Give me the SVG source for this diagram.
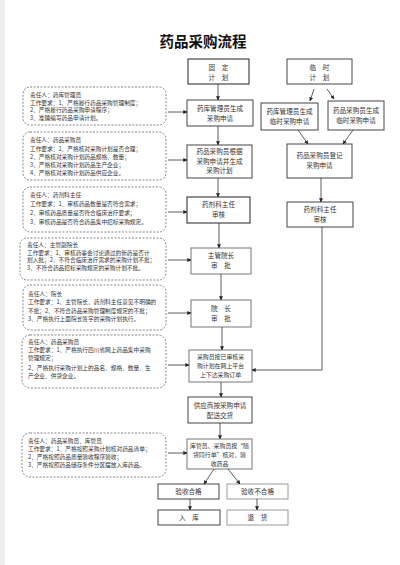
<svg xmlns="http://www.w3.org/2000/svg" width="400" height="565" viewBox="0 0 400 565">
<defs>
<marker id="ah" viewBox="0 0 6 6" refX="5.5" refY="3" markerWidth="5" markerHeight="5" orient="auto">
<path d="M0,0 L6,3 L0,6 z" fill="#222"/>
</marker>
<style>
.title{font-family:"Noto Sans CJK SC",sans-serif;font-size:14.5px;font-weight:bold;fill:#111;text-anchor:middle}
.box{fill:#fff;stroke:#444;stroke-width:1}
.lt{stroke:#999}
.note{fill:#fff;stroke:#666;stroke-width:0.8;stroke-dasharray:2 1.5}
.t{font-family:"Noto Sans CJK SC",sans-serif;font-size:6.6px;fill:#333;text-anchor:middle}
.s{font-size:5.9px}
.n{font-family:"Noto Sans CJK SC",sans-serif;font-size:5.7px;fill:#333}
.c{fill:none;stroke:#333;stroke-width:0.8;marker-end:url(#ah)}
</style>
</defs>
<rect width="400" height="565" fill="#fff"/>
<rect x="0" y="0" width="5" height="565" fill="#eee"/>
<text class="title" x="203" y="47">药品采购流程</text>

<g id="n-fixed"><rect class="box" x="188" y="59" width="61" height="25" style="stroke:#222"/><text class="t" x="218.5" y="70">固　定</text><text class="t" x="218.5" y="80">计　划</text></g>
<g id="n-temp"><rect class="box" x="287" y="59" width="65" height="25"/><text class="t" x="319.5" y="70">临　时</text><text class="t" x="319.5" y="80">计　划</text></g>
<g id="n-apply"><rect class="box" x="187" y="100" width="66" height="26"/><text class="t" x="220" y="111">药库管理员生成</text><text class="t" x="220" y="121">采购申请</text></g>
<g id="n-tapply1"><rect class="box" x="261" y="103" width="57" height="27"/><text class="t" x="289.5" y="114">药库管理员生成</text><text class="t" x="289.5" y="124">临时采购申请</text></g>
<g id="n-tapply2"><rect class="box" x="328" y="101" width="56" height="29"/><text class="t" x="356" y="113">药品采购员生成</text><text class="t" x="356" y="123">临时采购申请</text></g>
<g id="n-plan"><rect class="box" x="187" y="145" width="65" height="33"/><text class="t" x="219.5" y="154">药品采购员根据</text><text class="t" x="219.5" y="163.5">采购申请并生成</text><text class="t" x="219.5" y="173">采购计划</text></g>
<g id="n-register"><rect class="box" x="287" y="144" width="65" height="34"/><text class="t" x="319.5" y="158">药品采购员登记</text><text class="t" x="319.5" y="168">采购申请</text></g>
<g id="n-chief"><rect class="box" x="187" y="197" width="63" height="26" style="stroke:#222"/><text class="t" x="218.5" y="207">药剂科主任</text><text class="t" x="218.5" y="217">审核</text></g>
<g id="n-chief2"><rect class="box" x="287" y="202" width="66" height="25"/><text class="t" x="320" y="212">药剂科主任</text><text class="t" x="320" y="222">审核</text></g>
<g id="n-vice"><rect class="box" x="191" y="248" width="60" height="26" style="stroke:#777"/><text class="t" x="221" y="258">主管院长</text><text class="t" x="221" y="268">审　批</text></g>
<g id="n-dean"><rect class="box" x="191" y="300" width="60" height="27" style="stroke:#777"/><text class="t" x="221" y="311">院　长</text><text class="t" x="221" y="321">审　批</text></g>
<g id="n-order"><rect class="box" x="189" y="350" width="63" height="32" style="stroke:#777"/><text class="t s" x="220.5" y="359">采购员按已审核采</text><text class="t s" x="220.5" y="368">购计划在网上平台</text><text class="t s" x="220.5" y="377">上下达采购订单</text></g>
<g id="n-deliver"><rect class="box" x="188" y="397" width="64" height="26"/><text class="t" x="220" y="407.5">供应商按采购申请</text><text class="t" x="220" y="417.5">配送交货</text></g>
<g id="n-check"><rect class="box" x="187" y="439" width="65" height="30" style="stroke:#777"/><text class="t s" x="219.5" y="448">库管员、采购员按“随</text><text class="t s" x="219.5" y="457">货同行单”核对，验</text><text class="t s" x="219.5" y="466">收药品</text></g>
<g id="n-ok"><rect class="box" x="158" y="484" width="61" height="15"/><text class="t" x="188.5" y="494">验收合格</text></g>
<g id="n-ng"><rect class="box lt" x="227" y="484" width="61" height="15"/><text class="t" x="257.5" y="494">验收不合格</text></g>
<g id="n-store"><rect class="box" x="158" y="510" width="62" height="15"/><text class="t" x="189" y="520">入　库</text></g>
<g id="n-return"><rect class="box lt" x="227" y="510" width="61" height="15"/><text class="t" x="257.5" y="520">退　货</text></g>

<g id="note1"><rect class="note" x="23" y="87" width="143" height="38" rx="7"/>
<text class="n" x="30" y="97">责任人：药库管理员</text>
<text class="n" x="30" y="104.5">工作要求：1、严格履行药品采购管理制度；</text>
<text class="n" x="30" y="112">2、严格履行药品采购申请程序；</text>
<text class="n" x="30" y="119.5">3、准确编写药品申请计划。</text></g>
<g id="note2"><rect class="note" x="23" y="132" width="143" height="48" rx="7"/>
<text class="n" x="30" y="142">责任人：药品采购员</text>
<text class="n" x="30" y="151">工作要求：1、严格核对采购计划是否合理；</text>
<text class="n" x="30" y="159">2、严格核对采购计划药品规格、数量；</text>
<text class="n" x="30" y="167">3、严格核对采购计划药品生产企业；</text>
<text class="n" x="30" y="175">4、严格核对采购计划药品供应企业。</text></g>
<g id="note3"><rect class="note" x="23" y="187" width="143" height="45" rx="7"/>
<text class="n" x="30" y="197">责任人：药剂科主任</text>
<text class="n" x="30" y="206">工作要求：1、审核药品数量是否符合需求；</text>
<text class="n" x="30" y="215">2、审核药品质量是否符合临床治疗要求；</text>
<text class="n" x="30" y="224">3、审核药品是否符合药品集中招标采购规定。</text></g>
<g id="note4"><rect class="note" x="20" y="238" width="146" height="42" rx="7"/>
<text class="n" x="27" y="247">责任人：主管副院长</text>
<text class="n" x="27" y="254.5">工作要求：1、审核药事会讨论通过的新药是否计</text>
<text class="n" x="27" y="262">划入批；2、不符合临床治疗需求的采购计划不批；</text>
<text class="n" x="27" y="269.5">3、不符合药品招标采购规定的采购计划不批。</text></g>
<g id="note5"><rect class="note" x="23" y="285" width="143" height="45" rx="7"/>
<text class="n" x="28" y="296">责任人：院长</text>
<text class="n" x="28" y="304">工作要求：1、主管院长、药剂科主任意见不明确的</text>
<text class="n" x="28" y="312.5">不批；2、不符合药品采购管理制度规定的不批；</text>
<text class="n" x="28" y="320.5">3、严格执行上面院长签字的采购计划执行。</text></g>
<g id="note6"><rect class="note" x="22" y="335" width="144" height="53" rx="8"/>
<text class="n" x="28" y="344">责任人：药品采购员</text>
<text class="n" x="28" y="352">工作要求：1、严格执行四川省网上药品集中采购</text>
<text class="n" x="28" y="359.5">管理规定；</text>
<text class="n" x="28" y="370">2、严格执行采购计划上的品名、规格、数量、生</text>
<text class="n" x="28" y="378">产企业、供货企业。</text></g>
<g id="note7"><rect class="note" x="22" y="433" width="144" height="44" rx="8"/>
<text class="n" x="28" y="443">责任人：药品采购员、库管员</text>
<text class="n" x="28" y="451">工作要求：1、严格按照采购计划核对药品清单；</text>
<text class="n" x="28" y="459">2、严格按照药品质量验收程序验收；</text>
<text class="n" x="28" y="467">3、严格按照药品储存条件分区摆放入库药品。</text></g>

<g id="connectors">
<path class="c" d="M218,84 V100"/>
<path class="c" d="M314,89 L310,101"/>
<path class="c" d="M327,89 L334,99"/>
<path class="c" d="M218,126 V145"/>
<path class="c" d="M298,130 L308,144"/>
<path class="c" d="M353,130 L343,144"/>
<path class="c" d="M218,178 V197"/>
<path class="c" d="M321,178 V202"/>
<path class="c" d="M219,223 V248"/>
<path class="c" d="M221,274 V300"/>
<path class="c" d="M322,227 V370 H252"/>
<path class="c" d="M222,327 V350"/>
<path class="c" d="M221,382 V397"/>
<path class="c" d="M220,423 V439"/>
<path class="c" d="M214,469 L204,484"/>
<path class="c" d="M228,469 L240,484"/>
<path class="c" d="M190,499 V510"/>
<path class="c" d="M257,499 V510"/>
<path class="c" d="M168,112 H187"/>
<path class="c" d="M168,160 H187"/>
<path class="c" d="M168,212 H187"/>
<path class="c" d="M168,260 H191"/>
<path class="c" d="M168,313 H191"/>
<path class="c" d="M168,365 H189"/>
<path class="c" d="M168,453 H187"/>
</g>
</svg>
